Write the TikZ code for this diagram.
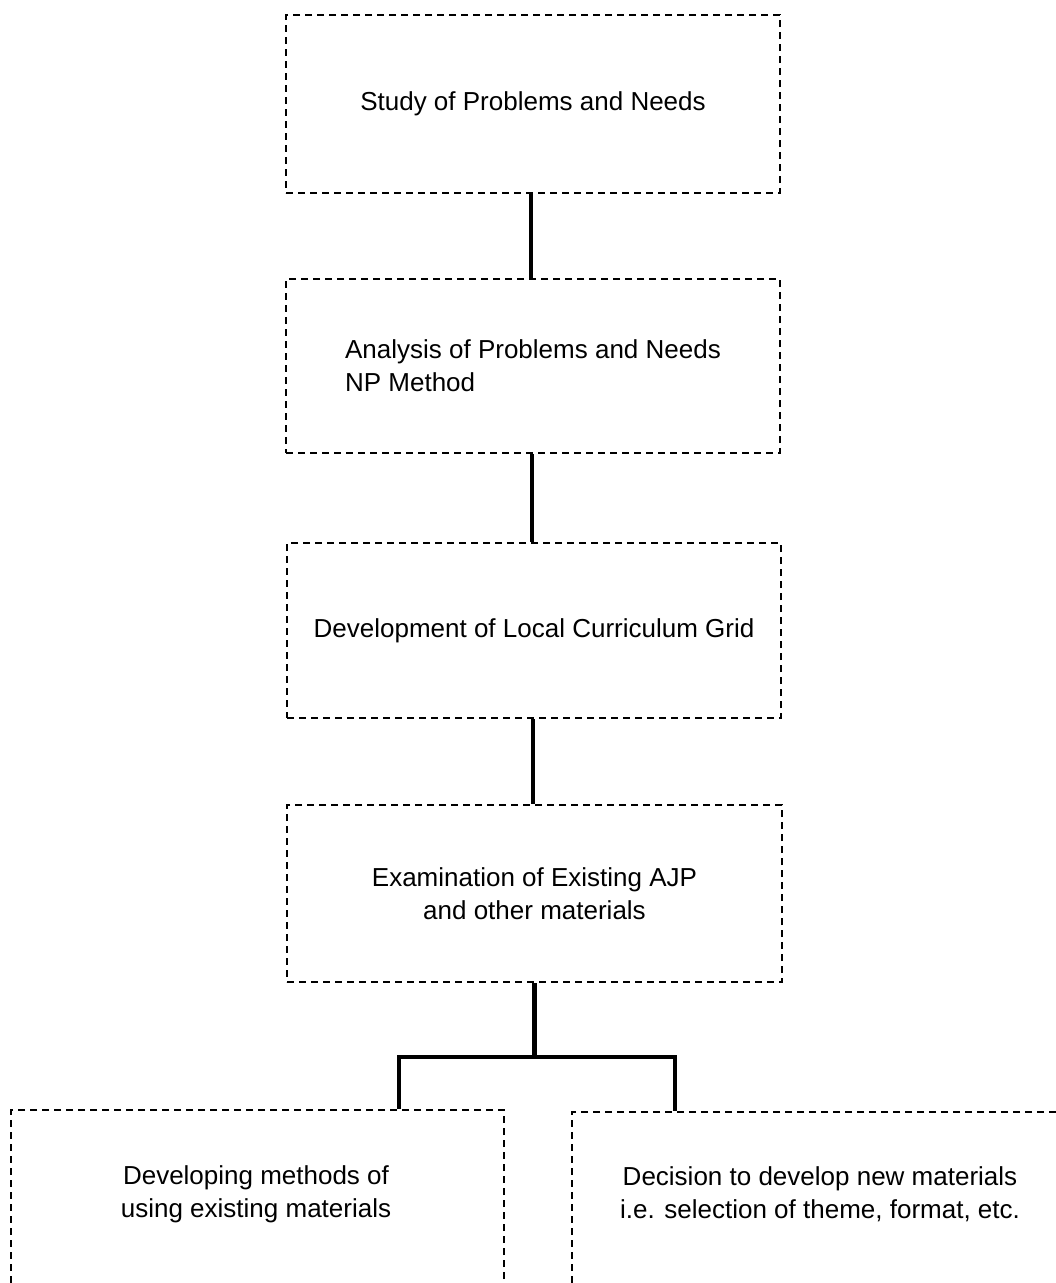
\documentclass[tikz,border=0pt]{standalone}
\usepackage{fontspec}
\setmainfont{Liberation Sans}
\begin{document}
\begin{tikzpicture}[x=1pt,y=-1pt,
  box/.style={draw, dash pattern=on 7pt off 5pt, line width=2.3pt, inner sep=0pt,
              font=\fontsize{26}{33}\selectfont},
  conn/.style={line width=4.5pt, line join=miter},
  lbl/.style={font=\fontsize{26}{33}\selectfont, align=center, inner sep=0pt}]
\useasboundingbox (0,0) rectangle (1056,1283);
\clip (0,0) rectangle (1056,1283);

\node[box, minimum width=494pt, minimum height=178pt, align=center] (b1) at (533,104)
  {Study of Problems and Needs};
\node[box, minimum width=494pt, minimum height=174pt, align=left] (b2) at (533,366)
  {Analysis of Problems and Needs\\NP Method};
\node[box, minimum width=494pt, minimum height=175pt, align=center] (b3) at (534,630.5)
  {Development of Local Curriculum Grid};
\node[box, minimum width=495pt, minimum height=177pt, align=center] (b4) at (534.5,893.5)
  {Examination of Existing AJP\\and other materials};

\node[box, minimum width=493pt, minimum height=240pt, anchor=north west] (bl) at (10,1109) {};
\node[box, minimum width=500pt, minimum height=240pt, anchor=north west] (br) at (571,1111) {};
\node[lbl] (tl) at (256,1194) {Developing methods of\\using existing materials};
\node[lbl] (tr) at (820,1194) {Decision to develop new materials\\i.e. selection of theme, format, etc.};

\coordinate (c1) at (531,0);
\coordinate (c2) at (532,0);
\coordinate (c3) at (533,0);
\coordinate (c4) at (534.5,0);
\draw[conn] (c1 |- b1.south) -- (c1 |- b2.north);
\draw[conn] (c2 |- b2.south) -- (c2 |- b3.north);
\draw[conn] (c3 |- b3.south) -- (c3 |- b4.north);

\coordinate (j) at (534.5,1057);
\coordinate (jl) at (399,1057);
\coordinate (jr) at (675,1057);
\draw[conn] (c4 |- b4.south) -- (j);
\draw[conn] (jl |- bl.north) -- (jl) -- (jr) -- (jr |- br.north);
\end{tikzpicture}
\end{document}
